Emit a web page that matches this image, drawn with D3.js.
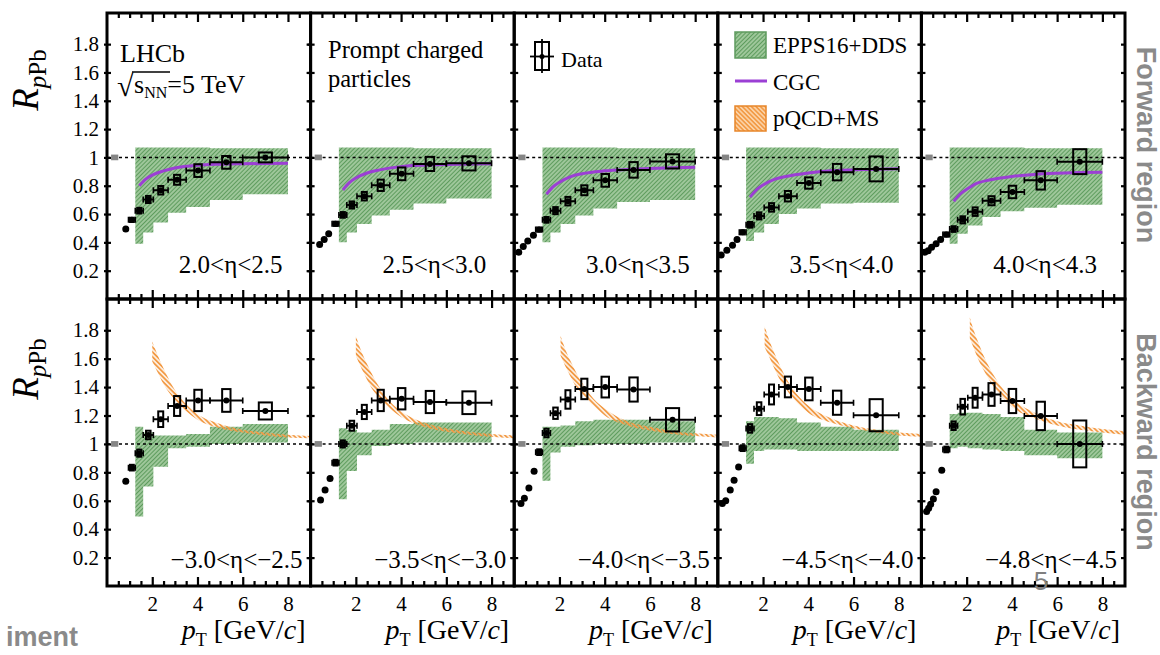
<!DOCTYPE html>
<html><head><meta charset="utf-8">
<script src="https://cdn.jsdelivr.net/npm/d3@7"></script>
<style>body{margin:0;background:#fff}svg{display:block}</style>
</head><body>
<svg id="c" width="1160" height="655"></svg>
<script>
// ---------------- DATA ----------------
const etaForward  = ["2.0<η<2.5","2.5<η<3.0","3.0<η<3.5","3.5<η<4.0","4.0<η<4.3"];
const etaBackward = ["−3.0<η<−2.5","−3.5<η<−3.0","−4.0<η<−3.5","−4.5<η<−4.0","−4.8<η<−4.5"];
const xTicks = [2,4,6,8];
const yTicks = [0.2,0.4,0.6,0.8,1,1.2,1.4,1.6,1.8];
// pT bins (GeV/c) for the binned data points
const binLo = [0.95,1.25,1.6,2.05,2.7,3.5,4.55,6.0];
const binHi = [1.25,1.6,2.05,2.7,3.5,4.55,6.0,8.0];
const sysBoxW = [0.17,0.18,0.2,0.22,0.27,0.33,0.37,0.58];
// forward R_pPb
const fwdR = [
 [0.559,0.624,0.703,0.768,0.842,0.907,0.965,1.0],
 [0.531,0.594,0.664,0.726,0.803,0.884,0.954,0.958],
 [0.49,0.559,0.624,0.691,0.768,0.838,0.912,0.972],
 [0.471,0.524,0.587,0.647,0.726,0.819,0.896,0.919],
 [0.455,0.494,0.559,0.617,0.694,0.756,0.838,0.97]];
const fwdSys = [
 [0.015,0.02,0.025,0.03,0.035,0.045,0.045,0.035],
 [0.015,0.02,0.025,0.03,0.04,0.045,0.05,0.05],
 [0.015,0.02,0.025,0.03,0.035,0.045,0.055,0.05],
 [0.015,0.02,0.025,0.03,0.037,0.04,0.058,0.088],
 [0.015,0.02,0.025,0.03,0.032,0.044,0.065,0.088]];
const fwdLowPt = [[0.83],[0.4,0.6,0.8],[0.2,0.4,0.6,0.85],[0.15,0.4,0.65,0.85],[0.15,0.3,0.45,0.65,0.85]];
const fwdLowR  = [[0.494],[0.385,0.42,0.46],[0.33,0.37,0.41,0.45],[0.31,0.345,0.38,0.42],[0.33,0.34,0.365,0.39,0.42]];
// backward R_pPb
const bwdR = [
 [0.833,0.935,1.063,1.174,1.267,1.306,1.306,1.232],
 [0.868,1.0,1.128,1.225,1.306,1.318,1.295,1.29],
 [0.942,1.077,1.216,1.313,1.387,1.40,1.383,1.17],
 [0.97,1.109,1.248,1.348,1.401,1.387,1.29,1.202],
 [0.961,1.128,1.262,1.325,1.348,1.302,1.197,1.0]];
const bwdSys = [
 [0.02,0.025,0.03,0.055,0.07,0.075,0.08,0.06],
 [0.02,0.025,0.035,0.05,0.075,0.075,0.078,0.08],
 [0.02,0.03,0.04,0.065,0.072,0.073,0.085,0.082],
 [0.02,0.03,0.045,0.07,0.073,0.08,0.085,0.113],
 [0.02,0.03,0.055,0.07,0.08,0.085,0.10,0.165]];
const bwdLowPt = [[0.83],[0.44,0.64,0.86],[0.3,0.45,0.65,0.88],[0.2,0.35,0.55,0.72,0.92],[0.23,0.32,0.41,0.53,0.65,0.9]];
const bwdLowR  = [[0.738],[0.606,0.675,0.756],[0.58,0.617,0.69,0.807],[0.58,0.60,0.675,0.745,0.838],[0.524,0.548,0.575,0.613,0.664,0.814]];
// EPPS16+DDS band (bins 2..8 of binLo/binHi)
const fwdBandLo = [
 [0.39,0.47,0.54,0.61,0.65,0.70,0.74],
 [0.40,0.47,0.53,0.59,0.63,0.675,0.71],
 [0.40,0.47,0.53,0.59,0.64,0.685,0.70],
 [0.41,0.47,0.53,0.60,0.64,0.675,0.68],
 [0.39,0.46,0.52,0.58,0.62,0.645,0.665]];
const fwdBandHi = [
 [1.07,1.07,1.07,1.07,1.07,1.065,1.065],
 [1.07,1.07,1.07,1.07,1.07,1.065,1.065],
 [1.07,1.07,1.07,1.07,1.07,1.065,1.065],
 [1.07,1.07,1.07,1.07,1.07,1.065,1.065],
 [1.07,1.07,1.07,1.07,1.07,1.065,1.065]];
const bwdBandLo = [
 [0.49,0.70,0.84,0.97,0.98,1.0,1.01],
 [0.61,0.81,0.92,0.985,1.0,1.01,1.01],
 [0.74,0.94,0.98,0.99,1.0,1.0,1.01],
 [0.86,0.95,0.96,0.96,0.95,0.95,0.95],
 [0.97,0.98,0.97,0.96,0.95,0.92,0.90]];
const bwdBandHi = [
 [1.12,1.08,1.06,1.06,1.07,1.12,1.14],
 [1.11,1.10,1.08,1.10,1.14,1.15,1.15],
 [1.12,1.12,1.13,1.16,1.17,1.17,1.16],
 [1.16,1.19,1.19,1.18,1.15,1.12,1.10],
 [1.21,1.22,1.22,1.21,1.19,1.10,1.08]];
// CGC curves (forward)
const cgcPt = [1.43,1.7,2.0,2.5,3.0,4.0,5.0,6.0,7.0,8.0];
const cgcR = [
 [0.80,0.845,0.875,0.905,0.925,0.945,0.952,0.955,0.957,0.958],
 [0.77,0.82,0.855,0.89,0.91,0.935,0.945,0.95,0.953,0.955],
 [0.74,0.79,0.825,0.865,0.885,0.905,0.915,0.922,0.927,0.93],
 [0.72,0.77,0.805,0.845,0.865,0.89,0.905,0.912,0.917,0.92],
 [0.69,0.74,0.775,0.82,0.84,0.865,0.88,0.888,0.893,0.896]];
// pQCD+MS band (backward)
const pqcdPt = [
 [2.0,2.25,2.5,2.75,3.0,3.5,4.0,5.0,6.0,7.0,8.0,9.0],
 [2.0,2.25,2.5,2.75,3.0,3.5,4.0,5.0,6.0,7.0,8.0,9.0],
 [2.05,2.25,2.5,2.75,3.0,3.5,4.0,5.0,6.0,7.0,8.0,9.0],
 [2.07,2.25,2.5,2.75,3.0,3.5,4.0,5.0,6.0,7.0,8.0,9.0],
 [2.14,2.25,2.5,2.75,3.0,3.5,4.0,5.0,6.0,7.0,8.0,9.0]];
const pqcdHi = [
 [1.72,1.62,1.53,1.45,1.38,1.28,1.21,1.14,1.10,1.08,1.065,1.055],
 [1.76,1.65,1.56,1.48,1.41,1.30,1.23,1.15,1.11,1.085,1.07,1.06],
 [1.76,1.67,1.58,1.50,1.43,1.32,1.25,1.16,1.12,1.09,1.075,1.065],
 [1.83,1.74,1.64,1.55,1.47,1.35,1.27,1.18,1.13,1.10,1.08,1.07],
 [1.89,1.83,1.72,1.62,1.54,1.41,1.32,1.22,1.16,1.13,1.105,1.09]];
const pqcdLo = [
 [1.58,1.50,1.42,1.36,1.31,1.23,1.17,1.11,1.08,1.06,1.045,1.04],
 [1.62,1.53,1.45,1.38,1.33,1.25,1.19,1.12,1.085,1.065,1.05,1.04],
 [1.62,1.55,1.47,1.40,1.35,1.27,1.20,1.13,1.095,1.07,1.055,1.045],
 [1.68,1.62,1.53,1.45,1.39,1.29,1.22,1.15,1.11,1.08,1.06,1.05],
 [1.74,1.70,1.60,1.52,1.45,1.34,1.26,1.18,1.13,1.10,1.08,1.065]];
const legendLabels = ["EPPS16+DDS","CGC","pQCD+MS"];

// ---------------- LAYOUT ----------------
const svg = d3.select("#c");
const serif = "Liberation Serif, DejaVu Serif, serif";
const sans = "Liberation Sans, Arial, sans-serif";
const P0 = 107, PW = 203.6;
const rows = [{top:13,bot:299},{top:299,bot:586}];
const orange="#f29a45", purple="#9b3fd4";

const defs = svg.append("defs");
function hatch(id, bg, fg, ang, sp, sw){
  const p = defs.append("pattern").attr("id",id).attr("patternUnits","userSpaceOnUse")
    .attr("width",sp).attr("height",sp).attr("patternTransform",`rotate(${ang})`);
  p.append("rect").attr("width",sp).attr("height",sp).attr("fill",bg);
  p.append("line").attr("x1",sp/2).attr("y1",0).attr("x2",sp/2).attr("y2",sp)
    .attr("stroke",fg).attr("stroke-width",sw);
}
hatch("gh","#b9d9b4","#5e9c5e",45,3,1.6);
hatch("oh","none",orange,-45,3.4,2);
hatch("ohL","#fbd2a6",orange,-45,3.2,1.6);

for (let r=0;r<2;r++){
  const row = rows[r];
  const y = d3.scaleLinear().domain([0,2.02]).range([row.bot,row.top]);
  for (let i=0;i<5;i++){
    const L = P0 + i*PW;
    const x = d3.scaleLinear().domain([0,9]).range([L, L+PW]);
    const g = svg.append("g");
    const clipId = `cl${r}${i}`;
    defs.append("clipPath").attr("id",clipId).append("rect")
      .attr("x",L).attr("y",row.top).attr("width",PW).attr("height",row.bot-row.top);
    const pg = g.append("g").attr("clip-path",`url(#${clipId})`);

    // EPPS16+DDS band (step)
    const bLo = r===0?fwdBandLo[i]:bwdBandLo[i];
    const bHi = r===0?fwdBandHi[i]:bwdBandHi[i];
    const stepData = bLo.map((v,k)=>({x:binLo[k+1],lo:v,hi:bHi[k]}));
    stepData.push({x:binHi[7],lo:bLo[6],hi:bHi[6]});
    const area = d3.area().curve(d3.curveStepAfter).x(d=>x(d.x)).y0(d=>y(d.lo)).y1(d=>y(d.hi));
    pg.append("path").attr("d",area(stepData)).attr("fill","url(#gh)");

    // pQCD band
    if (r===1){
      const pq = pqcdPt[i].map((p,k)=>({x:p,lo:pqcdLo[i][k],hi:pqcdHi[i][k]}));
      pg.append("path").attr("d",d3.area().curve(d3.curveMonotoneX).x(d=>x(d.x)).y0(d=>y(d.lo)).y1(d=>y(d.hi))(pq))
        .attr("fill","url(#oh)");
    }
    // CGC
    if (r===0){
      const cg = cgcPt.map((p,k)=>({x:p,v:cgcR[i][k]}));
      pg.append("path").attr("d",d3.line().curve(d3.curveMonotoneX).x(d=>x(d.x)).y(d=>y(d.v))(cg))
        .attr("fill","none").attr("stroke",purple).attr("stroke-width",3);
    }
    // dotted line at 1
    pg.append("line").attr("x1",L).attr("x2",L+PW).attr("y1",y(1)).attr("y2",y(1))
      .attr("stroke","#000").attr("stroke-width",1.5).attr("stroke-dasharray","3,3");
    // normalisation box
    pg.append("rect").attr("x",x(0.18)).attr("width",x(0.5)-x(0.18))
      .attr("y",y(1.02)).attr("height",y(0.98)-y(1.02)).attr("fill","#858585");

    // data
    const R = r===0?fwdR[i]:bwdR[i];
    const S = r===0?fwdSys[i]:bwdSys[i];
    const pts = R.map((v,k)=>({lo:binLo[k],hi:binHi[k],c:(binLo[k]+binHi[k])/2,v,s:S[k],w:sysBoxW[k]}));
    const dg = pg.append("g");
    pts.forEach(d=>{
      dg.append("line").attr("x1",x(d.lo)).attr("x2",x(d.hi)).attr("y1",y(d.v)).attr("y2",y(d.v))
        .attr("stroke","#000").attr("stroke-width",2);
      [d.lo,d.hi].forEach(e=>dg.append("line").attr("x1",x(e)).attr("x2",x(e))
        .attr("y1",y(d.v)-3).attr("y2",y(d.v)+3).attr("stroke","#000").attr("stroke-width",1.6));
      dg.append("rect").attr("x",x(d.c-d.w/2)).attr("width",x(d.c+d.w/2)-x(d.c-d.w/2))
        .attr("y",y(d.v+d.s)).attr("height",y(d.v-d.s)-y(d.v+d.s))
        .attr("fill","none").attr("stroke","#000").attr("stroke-width",2);
      dg.append("circle").attr("cx",x(d.c)).attr("cy",y(d.v)).attr("r",3).attr("fill","#000");
    });
    const lp = r===0?fwdLowPt[i]:bwdLowPt[i];
    const lr = r===0?fwdLowR[i]:bwdLowR[i];
    lp.forEach((p,k)=>{
      dg.append("circle").attr("cx",x(p)).attr("cy",y(lr[k])).attr("r",3.5).attr("fill","#000");
    });

    // ticks (library axes)
    const minor = d3.range(0.5,9,0.5).filter(t=>t%2!==0);
    const tickStyle = s=>{s.select(".domain").remove(); s.selectAll("line").attr("stroke","#000").attr("stroke-width",2.2);};
    g.append("g").attr("transform",`translate(0,${row.top})`).call(d3.axisBottom(x).tickValues(minor).tickSize(5).tickFormat("")).call(tickStyle);
    g.append("g").attr("transform",`translate(0,${row.top})`).call(d3.axisBottom(x).tickValues(xTicks).tickSize(9).tickFormat("")).call(tickStyle);
    g.append("g").attr("transform",`translate(0,${row.bot})`).call(d3.axisTop(x).tickValues(minor).tickSize(5).tickFormat("")).call(tickStyle);
    g.append("g").attr("transform",`translate(0,${row.bot})`).call(d3.axisTop(x).tickValues(xTicks).tickSize(9).tickFormat("")).call(tickStyle);
    g.append("g").attr("transform",`translate(${L},0)`).call(d3.axisRight(y).tickValues(yTicks).tickSize(4).tickFormat("")).call(tickStyle);
    g.append("g").attr("transform",`translate(${L+PW},0)`).call(d3.axisLeft(y).tickValues(yTicks).tickSize(4).tickFormat("")).call(tickStyle);
    g.append("g").attr("transform",`translate(${L},0)`).call(d3.axisLeft(y).tickValues(yTicks).tickSize(3).tickFormat("")).call(tickStyle);

    // frame
    g.append("rect").attr("x",L).attr("y",row.top).attr("width",PW).attr("height",row.bot-row.top)
      .attr("fill","none").attr("stroke","#000").attr("stroke-width",3);

    // eta label
    g.append("text").attr("x", r===0? L+PW-28 : L+PW-8).attr("y", r===0?273:568)
      .attr("text-anchor","end").attr("font-family",serif).attr("font-size",25)
      .text(r===0?etaForward[i]:etaBackward[i]);

    // y tick labels
    if (i===0){
      const ya = g.append("g").attr("transform",`translate(${L},0)`)
        .call(d3.axisLeft(y).tickValues(yTicks).tickSize(0).tickPadding(8).tickFormat(d=>d===1?"1":d3.format(".1f")(d)));
      ya.select(".domain").remove();
      ya.attr("font-family",serif).attr("font-size",21);
      ya.selectAll("text").attr("fill","#000");
    }
    // x tick labels
    if (r===1){
      const xa = g.append("g").attr("transform",`translate(0,${row.bot})`)
        .call(d3.axisBottom(x).tickValues(xTicks).tickSize(0).tickPadding(10).tickFormat(d3.format("d")));
      xa.select(".domain").remove();
      xa.attr("font-family",serif).attr("font-size",21);
      xa.selectAll("text").attr("fill","#000");
      const t = g.append("text").attr("x",L+PW-5).attr("y",639).attr("text-anchor","end")
        .attr("font-family",serif).attr("font-size",28);
      t.append("tspan").attr("font-style","italic").text("p");
      t.append("tspan").attr("font-size",18).attr("dy",7).text("T");
      t.append("tspan").attr("dy",-7).text(" [GeV/");
      t.append("tspan").attr("font-style","italic").text("c");
      t.append("tspan").text("]");
    }
  }
  // y title
  const cy = r===0?80:369;
  const yt = svg.append("text").attr("transform",`translate(38,${cy}) rotate(-90)`).attr("text-anchor","middle")
    .attr("font-family",serif).attr("font-size",37);
  yt.append("tspan").attr("font-style","italic").text("R");
  yt.append("tspan").attr("font-size",25).attr("dy",8).attr("font-style","italic").text("p");
  yt.append("tspan").attr("font-size",25).text("Pb");
}

// ---------- annotations ----------
const ann = svg.append("g").attr("font-family",serif).attr("fill","#000");
ann.append("text").attr("x",120).attr("y",62).attr("font-size",26).text("LHCb");
ann.append("text").attr("x",117).attr("y",96).attr("font-size",30).text("√");
const sTxt = ann.append("text").attr("x",134).attr("y",93).attr("font-size",26);
sTxt.append("tspan").text("s");
sTxt.append("tspan").attr("font-size",16).attr("dy",5).text("NN");
sTxt.append("tspan").attr("dy",-5).text("=5 TeV");
ann.append("line").attr("x1",132).attr("x2",170).attr("y1",72).attr("y2",72).attr("stroke","#000").attr("stroke-width",1.4);
ann.append("text").attr("x",328).attr("y",58).attr("font-size",24.5).text("Prompt charged");
ann.append("text").attr("x",328).attr("y",87).attr("font-size",24.5).text("particles");
// Data legend
const dl = ann.append("g");
dl.append("rect").attr("x",535).attr("y",42).attr("width",14).attr("height",28).attr("fill","none").attr("stroke","#000").attr("stroke-width",2);
dl.append("line").attr("x1",530).attr("x2",554).attr("y1",56.5).attr("y2",56.5).attr("stroke","#000").attr("stroke-width",1.8);
dl.append("line").attr("x1",542).attr("x2",542).attr("y1",39).attr("y2",73).attr("stroke","#000").attr("stroke-width",1.8);
dl.append("circle").attr("cx",542).attr("cy",56.5).attr("r",2.5);
ann.append("text").attr("x",561).attr("y",67).attr("font-size",22).text("Data");
// model legend
const ml = ann.append("g");
ml.append("rect").attr("x",735).attr("y",32).attr("width",31).attr("height",26).attr("fill","url(#gh)").attr("stroke","#5d9a5d").attr("stroke-width",1.5);
ml.append("line").attr("x1",735).attr("x2",767).attr("y1",81).attr("y2",81).attr("stroke",purple).attr("stroke-width",3);
ml.append("rect").attr("x",735).attr("y",106).attr("width",31).attr("height",25).attr("fill","url(#ohL)").attr("stroke","#e8862a").attr("stroke-width",1.5);
[53,90,126].forEach((yy,k)=>ann.append("text").attr("x",773).attr("y",yy).attr("font-size",23).text(legendLabels[k]));

// side texts
const side = svg.append("g").attr("font-family",sans).attr("font-weight","bold").attr("fill","#8a8a8a");
side.append("text").attr("transform","translate(1137,145) rotate(90)").attr("text-anchor","middle").attr("font-size",27).text("Forward region");
side.append("text").attr("transform","translate(1137,442) rotate(90)").attr("text-anchor","middle").attr("font-size",27).text("Backward region");
side.append("text").attr("x",78).attr("y",646).attr("text-anchor","end").attr("font-size",27).text("iment");
svg.append("text").attr("x",1041).attr("y",590).attr("text-anchor","middle").attr("font-family",sans).attr("font-size",26).attr("fill","#808080").text("5");
</script>
</body></html>
